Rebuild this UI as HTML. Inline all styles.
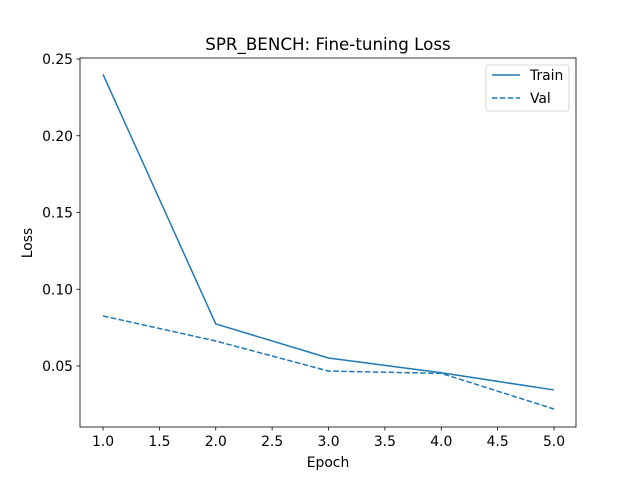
<!DOCTYPE html>
<html><head><meta charset="utf-8"><style>
body{margin:0;background:#fff;}
svg text{font-family:"DejaVu Sans","Liberation Sans",sans-serif;fill:#000;}
</style></head><body>
<svg id="chart" width="640" height="480" viewBox="0 0 640 480" xmlns="http://www.w3.org/2000/svg">
<rect width="640" height="480" fill="#fff"/>
<text x="328" y="50" font-size="16.7" text-anchor="middle">SPR_BENCH: Fine-tuning Loss</text>
<g id="axes"></g>
<g id="series"></g>
<rect x="80" y="58" width="496" height="369" fill="none" stroke="#000" stroke-width="0.8"/>
<text x="328" y="467" font-size="13.9" text-anchor="middle">Epoch</text>
<text transform="translate(32,243) rotate(-90)" font-size="13.9" text-anchor="middle">Loss</text>
<g>
<rect x="486" y="65" width="83" height="46" rx="2" fill="#fff" stroke="#ccc" stroke-width="0.8"/>
<line x1="492" y1="75" x2="520" y2="75" stroke="#1f77b4" stroke-width="1.5"/>
<text x="530" y="80" font-size="13.9">Train</text>
<line x1="492" y1="98" x2="520" y2="98" stroke="#1f77b4" stroke-width="1.5" stroke-dasharray="5.5,2.4"/>
<text x="530" y="103" font-size="13.9">Val</text>
</g>
</svg>
<script>
const epochs=[1,2,3,4,5];
const trainLoss=[0.2400,0.0774,0.0552,0.0456,0.0344];
const valLoss=[0.0826,0.0663,0.0467,0.0452,0.0220];
const xTicks=[1.0,1.5,2.0,2.5,3.0,3.5,4.0,4.5,5.0];
const yTicks=[0.05,0.10,0.15,0.20,0.25];
const NS="http://www.w3.org/2000/svg";
function xs(v){return 103+(v-1)*112.75;}
function ys(v){return 366-(v-0.05)*1535;}
const axes=document.getElementById('axes');
function mk(tag,attrs,parent){const e=document.createElementNS(NS,tag);for(const k in attrs)e.setAttribute(k,attrs[k]);parent.appendChild(e);return e;}
xTicks.forEach(t=>{
 const l=mk('line',{x1:xs(t),x2:xs(t),y1:427,y2:430.5,stroke:'#000','stroke-width':0.8},axes);
 
 
 const tx=mk('text',{x:xs(t),y:446,'font-size':13.9,'text-anchor':'middle'},axes);
 tx.textContent=t.toFixed(1);
 
 
});
yTicks.forEach(t=>{
 const l=mk('line',{x1:76.5,x2:80,y1:ys(t),y2:ys(t),stroke:'#000','stroke-width':0.8},axes);
 
 
 const tx=mk('text',{x:73,y:ys(t)+5,'font-size':13.9,'text-anchor':'end'},axes);
 tx.textContent=t.toFixed(2);
 
 
});
const ser=document.getElementById('series');
function line(vals,dash,name){
 const p=mk('polyline',{points:vals.map((v,i)=>xs(epochs[i])+','+ys(v)).join(' '),fill:'none',stroke:'#1f77b4','stroke-width':1.5},ser);
 if(dash)p.setAttribute('stroke-dasharray',dash);
 
 
}
line(trainLoss,null,'train-loss-line');
line(valLoss,'5.5,2.4','val-loss-line');
</script>
</body></html>
